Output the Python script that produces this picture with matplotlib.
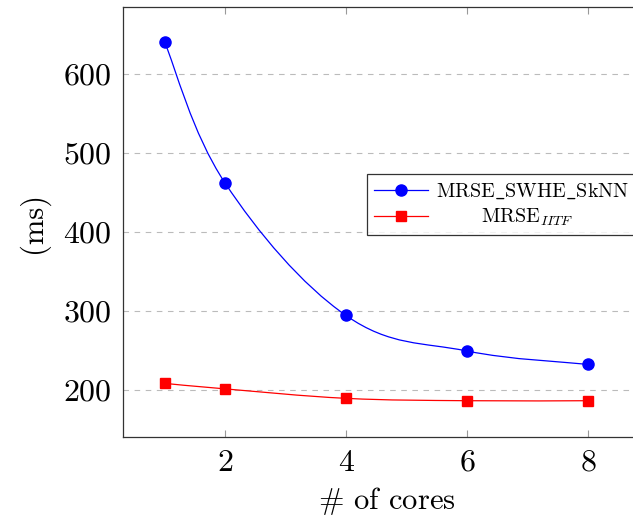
import matplotlib
matplotlib.use("Agg")
import matplotlib.pyplot as plt
import numpy as np
from matplotlib.path import Path
from matplotlib.patches import PathPatch

plt.rcParams["font.family"] = "serif"
plt.rcParams["font.serif"] = ["cmr10"]
plt.rcParams["mathtext.fontset"] = "cm"
plt.rcParams["axes.formatter.use_mathtext"] = True

cores = [1, 2, 4, 6, 8]
swhe_sknn = [641, 462, 294, 249, 232]
iitf = [208, 201, 189, 186, 186]

yticks = [200, 300, 400, 500, 600]
xticks = [2, 4, 6, 8]


def smooth_path(xs, ys, tension=0.55):
    # cubic bezier through points, tikz "smooth"-like
    p = np.column_stack([xs, ys]).astype(float)
    n = len(p)
    verts = [p[0]]
    codes = [Path.MOVETO]
    k = tension / 3.0
    for i in range(n - 1):
        p0 = p[i - 1] if i > 0 else p[i]
        p1, p2 = p[i], p[i + 1]
        p3 = p[i + 2] if i + 2 < n else p[i + 1]
        c1 = p1 + (p2 - p0) * k
        c2 = p2 - (p3 - p1) * k
        verts += [c1, c2, p2]
        codes += [Path.CURVE4] * 3
    return Path(verts, codes)


# axes run past the right edge of the picture, as in the cropped original
W, H = 633, 517
right_px = 650
fig = plt.figure(figsize=(W / 100, H / 100), dpi=100)
ax = fig.add_axes([123 / W, 1 - 437 / H, (right_px - 123) / W, 430 / H])

for ys, color, marker, ms, label in [
    (swhe_sknn, "#0000ff", "o", 8, r"MRSE$\_$SWHE$\_$SkNN"),
    (iitf, "#ff0000", "s", 7.5, r"$\qquad\;\;$MRSE$_{IITF}$"),
]:
    ax.add_patch(PathPatch(smooth_path(cores, ys), fc="none", ec=color, lw=0.9, zorder=3))
    ax.plot(cores, ys, ls="none", marker=marker, ms=ms, color=color, zorder=4)
    ax.plot([], [], color=color, lw=0.9, marker=marker, ms=ms, label=label)

ax.set_xlim(0.314, 0.314 + (right_px - 123) / 60.5)
ax.set_ylim(140, 685)
ax.set_xticks(xticks)
ax.set_yticks(yticks)
ax.grid(axis="y", color="#bbbbbb", ls=(0, (5, 5)), lw=0.8)
ax.set_axisbelow(True)
ax.tick_params(axis="x", direction="in", length=5, color="#999999",
               top=True, labelsize=23, pad=9)
ax.tick_params(axis="y", direction="in", length=0, labelsize=23, pad=8)
for s in ax.spines.values():
    s.set_color("#333333")
    s.set_linewidth(0.9)

ax.set_xlabel(r"$\#$ of cores", fontsize=22, labelpad=6)
ax.set_ylabel("(ms)", fontsize=22, labelpad=10)

leg = ax.legend(loc="upper left", bbox_to_anchor=(244 / (right_px - 123), 0.611),
                fontsize=14.5, frameon=True, fancybox=False, edgecolor="black",
                handlelength=2.7, borderpad=0.35, labelspacing=0.3,
                handletextpad=0.4, borderaxespad=0)
leg.get_frame().set_linewidth(0.9)

fig.savefig("out.png", dpi=100)
